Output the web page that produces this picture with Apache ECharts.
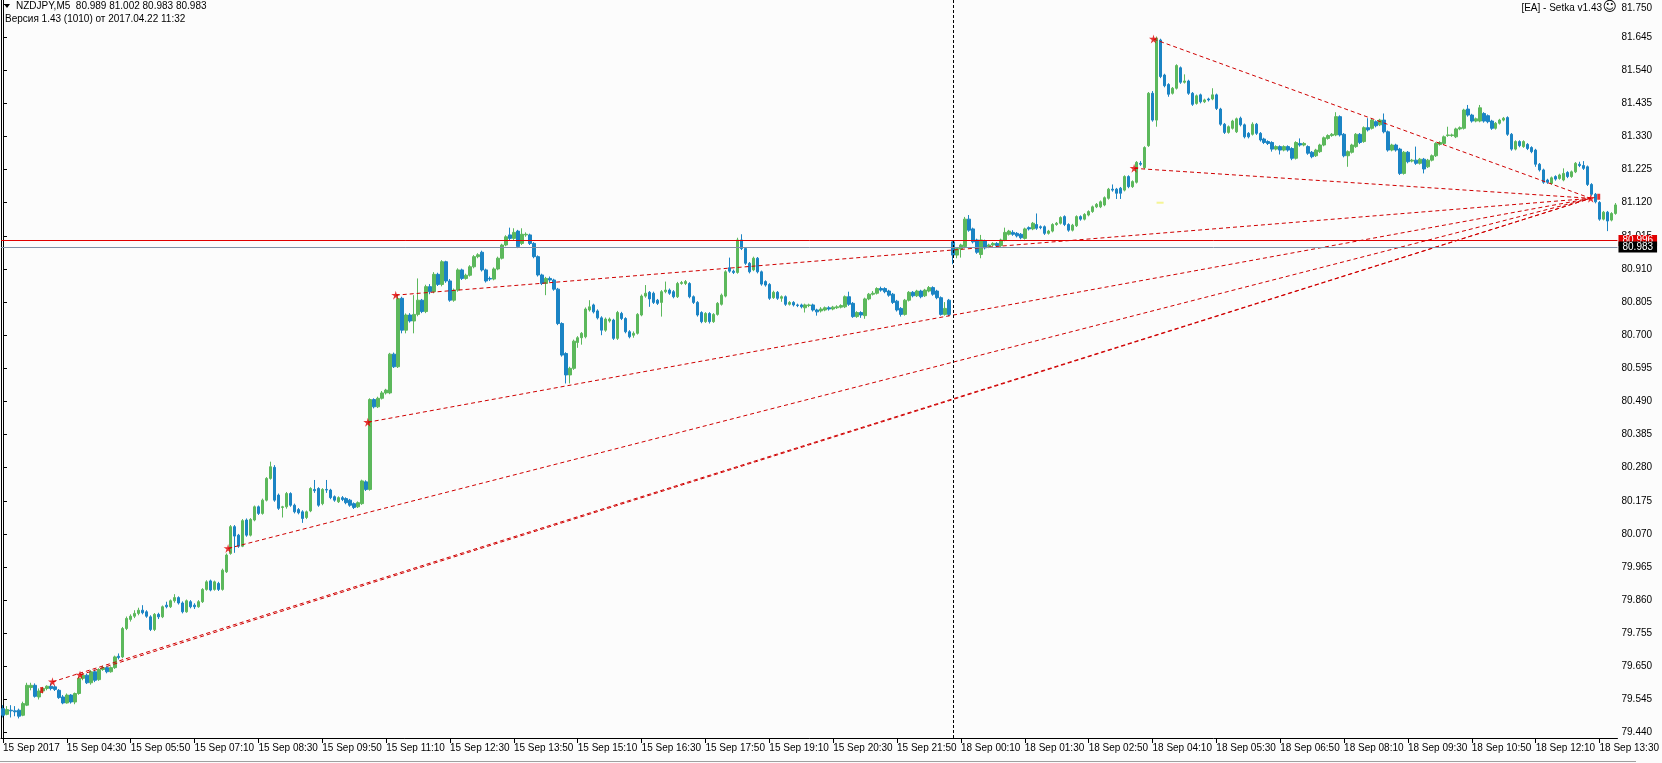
<!DOCTYPE html>
<html>
<head>
<meta charset="utf-8">
<script src="https://cdn.jsdelivr.net/npm/echarts@6/dist/echarts.min.js"></script>
<style>
  html, body { margin: 0; padding: 0; background: #fcfcfc; }
  #chart { width: 1662px; height: 763px; }
</style>
</head>
<body>
<div id="chart"></div>
<script>
// NZDJPY M5, bars as [open, close, low, high]
var friMorning = [
  [79.516,79.495,79.488,79.527],[79.498,79.513,79.495,79.524],[79.511,79.509,79.488,79.527],[79.509,79.506,79.492,79.524],
  [79.511,79.492,79.485,79.516],[79.495,79.532,79.492,79.538],[79.527,79.590,79.524,79.598],[79.583,79.590,79.574,79.598],
  [79.590,79.555,79.551,79.596],[79.553,79.572,79.545,79.580],[79.572,79.580,79.564,79.585],[79.580,79.587,79.574,79.590],
  [79.587,79.580,79.574,79.596],[79.585,79.577,79.572,79.590],[79.574,79.551,79.547,79.578],[79.553,79.534,79.530,79.559],
  [79.534,79.559,79.532,79.564],[79.559,79.537,79.532,79.562],[79.537,79.564,79.530,79.567],[79.564,79.612,79.560,79.617],
  [79.612,79.622,79.606,79.628],[79.622,79.598,79.594,79.627],[79.598,79.633,79.592,79.638],[79.633,79.606,79.600,79.640],
  [79.608,79.640,79.604,79.644],[79.640,79.646,79.636,79.652],[79.646,79.633,79.628,79.650],[79.633,79.646,79.630,79.650],
  [79.646,79.680,79.642,79.684],[79.682,79.678,79.672,79.691],[79.680,79.770,79.676,79.775],[79.770,79.802,79.765,79.808],
  [79.799,79.809,79.792,79.815],[79.809,79.818,79.803,79.828],[79.818,79.828,79.812,79.836],[79.828,79.820,79.815,79.844],
  [79.823,79.809,79.804,79.828],[79.807,79.767,79.762,79.812],[79.767,79.815,79.762,79.819],[79.815,79.807,79.800,79.820],
  [79.807,79.839,79.803,79.843],[79.844,79.839,79.834,79.855],[79.839,79.858,79.835,79.862],[79.858,79.868,79.852,79.879],
  [79.868,79.851,79.846,79.872],[79.851,79.823,79.818,79.856],[79.823,79.858,79.820,79.862],[79.855,79.839,79.834,79.860],
  [79.844,79.839,79.832,79.850],[79.839,79.855,79.836,79.860],[79.855,79.894,79.851,79.898],[79.894,79.918,79.890,79.923],
  [79.921,79.892,79.888,79.925],[79.894,79.918,79.890,79.922],[79.913,79.894,79.889,79.918],[79.894,79.955,79.890,79.960],
  [79.950,80.003,79.946,80.008],[80.008,80.093,80.004,80.098],[80.093,80.063,80.010,80.098],[80.066,80.031,80.026,80.070],
  [80.031,80.112,80.028,80.117],[80.114,80.066,80.061,80.119],[80.066,80.116,80.062,80.120],[80.114,80.156,80.110,80.160],
  [80.156,80.135,80.130,80.160],[80.135,80.177,80.131,80.182],[80.177,80.246,80.173,80.250],[80.246,80.283,80.242,80.299],
  [80.281,80.177,80.172,80.288],[80.193,80.151,80.146,80.198],[80.154,80.156,80.122,80.159],[80.156,80.198,80.150,80.203],
  [80.198,80.161,80.156,80.202],[80.161,80.140,80.135,80.166],[80.147,80.137,80.132,80.152],[80.140,80.119,80.105,80.145],
  [80.122,80.140,80.117,80.144],[80.143,80.214,80.139,80.218],[80.211,80.207,80.200,80.241],[80.214,80.161,80.156,80.218],
  [80.166,80.211,80.161,80.215],[80.211,80.209,80.200,80.241],[80.209,80.185,80.180,80.213],[80.188,80.177,80.172,80.192],
  [80.172,80.185,80.168,80.189],[80.185,80.179,80.174,80.190],[80.182,80.169,80.164,80.186],[80.177,80.161,80.156,80.181],
  [80.166,80.154,80.149,80.170],[80.156,80.169,80.152,80.173],[80.166,80.238,80.162,80.242],[80.235,80.211,80.206,80.240],
  [80.211,80.496,80.207,80.500],[80.496,80.473,80.468,80.500],[80.473,80.500,80.469,80.505],[80.500,80.517,80.496,80.523],
  [80.517,80.526,80.512,80.530],[80.517,80.640,80.513,80.644],[80.640,80.600,80.596,80.645],[80.600,80.816,80.596,80.827]
];
var friAfternoon = [
  [80.817,80.716,80.706,80.822],[80.716,80.764,80.706,80.769],[80.764,80.745,80.740,80.770],[80.745,80.766,80.706,80.827],
  [80.766,80.811,80.760,80.880],[80.811,80.775,80.770,80.815],[80.775,80.854,80.770,80.860],[80.854,80.838,80.830,80.862],
  [80.838,80.893,80.833,80.900],[80.893,80.861,80.856,80.898],[80.861,80.933,80.855,80.938],[80.933,80.872,80.866,80.936],
  [80.872,80.811,80.806,80.878],[80.811,80.843,80.806,80.848],[80.843,80.907,80.838,80.912],[80.907,80.880,80.875,80.911],
  [80.880,80.890,80.876,80.895],[80.890,80.917,80.886,80.922],[80.917,80.949,80.912,80.954],[80.949,80.955,80.944,80.960],
  [80.963,80.907,80.902,80.968],[80.907,80.872,80.867,80.911],[80.880,80.878,80.872,80.886],[80.878,80.910,80.874,80.915],
  [80.910,80.944,80.906,80.949],[80.944,80.986,80.940,80.990],[80.986,81.012,80.982,81.017],[81.018,81.007,81.000,81.041],
  [81.007,81.026,81.002,81.039],[81.030,80.981,80.976,81.034],[80.991,81.020,80.986,81.039],[81.018,81.020,81.012,81.026],
  [81.018,80.991,80.986,81.022],[80.991,80.949,80.944,80.995],[80.949,80.891,80.886,80.953],[80.891,80.864,80.859,80.895],
  [80.864,80.880,80.827,80.885],[80.880,80.875,80.868,80.886],[80.875,80.846,80.841,80.879],[80.846,80.737,80.732,80.850],
  [80.737,80.637,80.632,80.741],[80.642,80.574,80.547,80.646],[80.574,80.595,80.547,80.600],[80.595,80.681,80.590,80.686],
  [80.677,80.692,80.660,80.697],[80.692,80.706,80.670,80.710],[80.695,80.783,80.690,80.788],[80.780,80.790,80.775,80.811],
  [80.796,80.774,80.769,80.800],[80.777,80.755,80.750,80.782],[80.755,80.716,80.700,80.760],[80.716,80.751,80.711,80.756],
  [80.745,80.751,80.740,80.756],[80.748,80.690,80.685,80.752],[80.690,80.772,80.685,80.777],[80.769,80.753,80.748,80.774],
  [80.753,80.711,80.706,80.757],[80.711,80.695,80.690,80.716],[80.700,80.706,80.692,80.712],[80.706,80.766,80.702,80.770],
  [80.764,80.824,80.760,80.829],[80.824,80.833,80.819,80.859],[80.836,80.815,80.790,80.840],[80.833,80.804,80.799,80.838],
  [80.811,80.801,80.796,80.815],[80.804,80.838,80.759,80.843],[80.838,80.843,80.833,80.870],[80.843,80.833,80.828,80.848],
  [80.838,80.822,80.817,80.843],[80.822,80.864,80.818,80.869],[80.864,80.867,80.860,80.872],[80.864,80.870,80.859,80.875],
  [80.864,80.822,80.817,80.868],[80.822,80.804,80.799,80.826],[80.804,80.764,80.759,80.808],[80.772,80.743,80.738,80.776],
  [80.743,80.769,80.739,80.773],[80.769,80.743,80.737,80.773],[80.743,80.766,80.739,80.770],[80.766,80.801,80.762,80.805],
  [80.798,80.827,80.794,80.832],[80.824,80.901,80.820,80.906],[80.914,80.903,80.898,80.946],[80.903,80.899,80.894,80.908],
  [80.899,81.002,80.895,81.009],[81.002,80.975,80.970,81.020],[80.975,80.928,80.923,80.979],[80.928,80.901,80.896,80.932],
  [80.907,80.944,80.903,80.949],[80.944,80.901,80.896,80.948],[80.901,80.862,80.857,80.905],[80.870,80.859,80.854,80.874],
  [80.861,80.817,80.812,80.865],[80.819,80.836,80.815,80.841],[80.836,80.817,80.812,80.840],[80.817,80.822,80.806,80.826],
  [80.822,80.798,80.793,80.826],[80.798,80.804,80.794,80.808],[80.804,80.796,80.791,80.808],[80.796,80.794,80.789,80.800],
  [80.796,80.790,80.785,80.800],[80.787,80.796,80.772,80.800],[80.794,80.796,80.789,80.800],[80.796,80.780,80.775,80.800],
  [80.780,80.774,80.762,80.784],
  [80.777,80.783,80.772,80.789],[80.780,80.787,80.776,80.791],[80.787,80.783,80.778,80.792],[80.783,80.789,80.779,80.793],
  [80.787,80.790,80.783,80.795],[80.789,80.794,80.785,80.798],[80.790,80.822,80.786,80.826],[80.822,80.798,80.793,80.838],
  [80.801,80.759,80.755,80.805],[80.759,80.772,80.755,80.776],[80.772,80.764,80.755,80.776],[80.762,80.815,80.752,80.819],
  [80.815,80.830,80.811,80.834],[80.830,80.833,80.826,80.840],[80.833,80.848,80.829,80.852],[80.848,80.843,80.838,80.854],
  [80.848,80.838,80.833,80.852],[80.840,80.827,80.822,80.844],[80.830,80.804,80.799,80.834],[80.808,80.780,80.775,80.812],
  [80.785,80.766,80.759,80.789],[80.766,80.811,80.762,80.815],[80.811,80.836,80.807,80.840],[80.836,80.825,80.820,80.840],
  [80.825,80.840,80.821,80.844],[80.840,80.822,80.817,80.844],[80.825,80.843,80.821,80.847],[80.840,80.851,80.836,80.856],
  [80.851,80.830,80.825,80.855],[80.840,80.819,80.814,80.844],[80.819,80.766,80.762,80.823],[80.766,80.785,80.762,80.805],
  [80.811,80.766,80.760,80.815]
];
var monMorning = [
  [80.996,80.954,80.925,80.999],[80.954,80.975,80.944,80.979],[80.973,80.986,80.946,80.990],[80.981,81.068,80.977,81.075],
  [81.068,81.033,81.028,81.081],[81.037,80.996,80.991,81.041],[81.002,80.963,80.958,81.006],[80.956,81.002,80.944,81.018],
  [80.999,80.977,80.972,81.003],[80.981,80.986,80.976,80.990],[80.986,80.991,80.982,80.995],[80.991,80.984,80.979,80.995],
  [80.984,81.002,80.980,81.006],[81.002,81.026,80.998,81.041],[81.020,81.030,81.016,81.034],[81.026,81.020,81.015,81.033],
  [81.023,81.015,81.010,81.027],[81.020,81.009,81.004,81.024],[81.007,81.037,81.003,81.041],[81.041,81.037,81.032,81.045],
  [81.037,81.055,81.033,81.059],[81.051,81.039,81.034,81.086],[81.044,81.041,81.036,81.048],[81.044,81.023,81.018,81.048],
  [81.023,81.030,81.019,81.034],[81.030,81.051,81.026,81.055],[81.051,81.055,81.047,81.059],[81.055,81.073,81.051,81.077],
  [81.076,81.051,81.046,81.080],[81.051,81.033,81.028,81.055],[81.033,81.049,81.029,81.053],[81.047,81.076,81.043,81.080],
  [81.076,81.068,81.063,81.080],[81.068,81.083,81.064,81.087],[81.081,81.092,81.077,81.096],[81.092,81.107,81.088,81.111],
  [81.107,81.115,81.103,81.119],[81.107,81.123,81.103,81.127],[81.113,81.136,81.109,81.140],[81.134,81.163,81.130,81.167],
  [81.163,81.160,81.155,81.178],[81.163,81.150,81.132,81.167],[81.166,81.150,81.132,81.170],[81.160,81.203,81.156,81.207],
  [81.203,81.171,81.166,81.207],[81.171,81.187,81.167,81.191],[81.185,81.248,81.181,81.252],[81.245,81.242,81.237,81.252],
  [81.231,81.295,81.227,81.299],[81.301,81.467,81.297,81.471],[81.467,81.382,81.377,81.474],[81.382,81.641,81.361,81.647],
  [81.636,81.520,81.515,81.640],[81.525,81.491,81.486,81.529],[81.495,81.464,81.456,81.499],[81.467,81.483,81.463,81.487],
  [81.483,81.555,81.479,81.559],[81.548,81.502,81.497,81.552],[81.502,81.506,81.498,81.527],[81.506,81.467,81.462,81.510],
  [81.467,81.432,81.427,81.471],[81.435,81.459,81.431,81.463],[81.462,81.440,81.435,81.466],[81.440,81.446,81.436,81.450],
  [81.449,81.446,81.441,81.453],[81.449,81.462,81.445,81.483],[81.462,81.419,81.414,81.466],[81.417,81.369,81.364,81.421],
  [81.369,81.343,81.338,81.373]
];
var monMidday = [
  [81.343,81.361,81.339,81.365],[81.356,81.379,81.352,81.383],[81.345,81.386,81.341,81.390],[81.388,81.367,81.362,81.393],
  [81.367,81.329,81.324,81.371],[81.340,81.329,81.324,81.344],[81.337,81.369,81.333,81.375],[81.369,81.340,81.335,81.373],
  [81.340,81.319,81.314,81.344],[81.322,81.311,81.306,81.326],[81.314,81.308,81.303,81.318],[81.311,81.290,81.282,81.315],
  [81.290,81.298,81.286,81.302],[81.298,81.287,81.273,81.302],[81.287,81.298,81.283,81.302],[81.298,81.287,81.282,81.302],
  [81.292,81.261,81.255,81.296],[81.261,81.311,81.257,81.315],[81.308,81.303,81.298,81.324],[81.303,81.308,81.299,81.312],
  [81.298,81.277,81.272,81.302],[81.280,81.266,81.261,81.284],[81.269,81.287,81.265,81.291],[81.282,81.303,81.278,81.307],
  [81.303,81.326,81.299,81.330],[81.324,81.333,81.320,81.337],[81.333,81.337,81.329,81.341],[81.335,81.393,81.331,81.407],
  [81.393,81.335,81.330,81.397],[81.337,81.269,81.264,81.341],[81.269,81.282,81.234,81.286],[81.280,81.303,81.276,81.307],
  [81.298,81.337,81.294,81.341],[81.337,81.311,81.306,81.341],[81.314,81.358,81.310,81.362],[81.358,81.351,81.346,81.388],
  [81.356,81.382,81.352,81.386],[81.377,81.364,81.359,81.381],[81.367,81.382,81.363,81.386],[81.382,81.345,81.340,81.403],
  [81.345,81.287,81.282,81.349],[81.287,81.303,81.283,81.307],[81.303,81.287,81.282,81.307],[81.290,81.213,81.208,81.294],
  [81.213,81.280,81.209,81.284],[81.280,81.250,81.245,81.284],[81.252,81.255,81.248,81.259],[81.255,81.245,81.240,81.298],
  [81.245,81.258,81.241,81.262],[81.258,81.227,81.213,81.262],[81.234,81.255,81.230,81.259],[81.255,81.269,81.251,81.273],
  [81.269,81.308,81.265,81.312],[81.305,81.311,81.301,81.315],[81.308,81.329,81.304,81.333],[81.333,81.335,81.329,81.361],
  [81.333,81.335,81.329,81.339],[81.329,81.354,81.325,81.358],[81.354,81.358,81.350,81.362],[81.356,81.414,81.352,81.418],
  [81.417,81.398,81.393,81.430],[81.398,81.379,81.374,81.402],[81.379,81.386,81.375,81.390],[81.379,81.421,81.375,81.430],
  [81.403,81.379,81.374,81.407],[81.396,81.377,81.372,81.400],[81.379,81.356,81.351,81.383],[81.356,81.372,81.352,81.376],
  [81.372,81.382,81.368,81.386],[81.382,81.388,81.378,81.392],[81.390,81.337,81.332,81.394],[81.337,81.290,81.285,81.341],
  [81.290,81.314,81.286,81.318],[81.314,81.301,81.296,81.318],[81.298,81.314,81.294,81.318],[81.305,81.292,81.287,81.309],
  [81.295,81.282,81.277,81.299],[81.287,81.242,81.234,81.291],[81.242,81.224,81.219,81.246],[81.224,81.185,81.180,81.228],
  [81.192,81.185,81.180,81.196],[81.181,81.199,81.177,81.203],[81.203,81.195,81.190,81.207],[81.197,81.208,81.193,81.212],
  [81.192,81.213,81.188,81.229],[81.216,81.203,81.198,81.220],[81.203,81.218,81.199,81.222],[81.218,81.245,81.214,81.249],
  [81.242,81.238,81.233,81.250],[81.238,81.229,81.224,81.252],[81.234,81.178,81.173,81.238],[81.178,81.147,81.142,81.182],
  [81.147,81.123,81.118,81.151],[81.121,81.068,81.063,81.125],[81.068,81.090,81.064,81.094],[81.090,81.062,81.030,81.094],
  [81.065,81.086,81.061,81.090],[81.086,81.113,81.082,81.119]
];

// trading sessions shown (M5 bars)
var sessions = [
  { day: '15 Sep', startMin: 3 * 60 + 10, bars: 238 },
  { day: '18 Sep', startMin: 0, bars: 167 }
];
var firstLabel = '15 Sep 2017';
var yTicks = [79.440, 79.545, 79.650, 79.755, 79.860, 79.965, 80.070, 80.175, 80.280, 80.385, 80.490,
  80.595, 80.700, 80.805, 80.910, 81.015, 81.120, 81.225, 81.330, 81.435, 81.540, 81.645, 81.750];

// grid lines of the EA: [bar, price] start points, all joined to one end point
var fanStarts = [[12.4, 79.601], [19.3, 79.623], [56.4, 80.024], [91.4, 80.424], [98.4, 80.827], [283.4, 81.229], [288.25, 81.639]];
var fanEnd = [397.8, 81.134];
var arrowMarks = [[9.7, 79.575], [399.8, 81.139]];
var yellowMark = [[289.9, 81.120]];
var redLevel = 80.996;
var bidLevel = 80.983;
var separatorBar = 238;

var candles = friMorning.concat(friAfternoon, monMorning, monMidday);

function pad(n) { return (n < 10 ? '0' : '') + n; }
var categories = [];
sessions.forEach(function (s) {
  for (var k = 0; k < s.bars; k++) {
    var m = s.startMin + 5 * k;
    categories.push(s.day + ' ' + pad(Math.floor(m / 60)) + ':' + pad(m % 60));
  }
});

var FONT = 'Liberation Sans, Arial, sans-serif';
var chart = echarts.init(document.getElementById('chart'), null, { renderer: 'canvas' });

var fanSeries = fanStarts.map(function (p) {
  return {
    type: 'line', xAxisIndex: 1, yAxisIndex: 0, data: [p, fanEnd],
    symbol: 'none', silent: true, z: 3,
    lineStyle: { color: '#d00000', width: 1, type: [4, 3] }
  };
});

var starPath = 'path://M5,0 L6,3.6 L10,3.6 L6.8,6 L8,10 L5,7.4 L2,10 L3.2,6 L0,3.6 L4,3.6 Z';

chart.setOption({
  animation: false,
  backgroundColor: '#fcfcfc',
  grid: { left: 0, right: 41, top: 0, bottom: 25 },
  xAxis: [{
    type: 'category',
    data: categories,
    boundaryGap: true,
    axisLine: { show: true, lineStyle: { color: '#000', width: 1 } },
    axisTick: { show: true, alignWithLabel: true, interval: 15, length: 5, lineStyle: { color: '#000' } },
    axisLabel: {
      interval: 15, align: 'left', margin: 5, color: '#000', fontSize: 10, fontFamily: FONT,
      formatter: function (v, i) { return i === 0 ? firstLabel : v; }
    },
    splitLine: { show: false }
  }, {
    type: 'value', min: -0.5, max: 404.5, show: false
  }],
  yAxis: {
    type: 'value',
    position: 'right',
    min: 79.4229, max: 81.7628,
    axisLine: { show: true, lineStyle: { color: '#000', width: 1 } },
    axisTick: { show: true, customValues: yTicks, length: 4, lineStyle: { color: '#000' } },
    axisLabel: {
      customValues: yTicks, margin: 4, color: '#000', fontSize: 10, fontFamily: FONT,
      formatter: function (v) { return v > 81.7 ? '{top|' + v.toFixed(3) + '}' : v.toFixed(3); },
      rich: { top: { padding: [8, 0, 0, 0], fontSize: 10, fontFamily: FONT, color: '#000' } }
    },
    splitLine: { show: false }
  },
  series: [{
    type: 'candlestick',
    data: candles,
    barWidth: 3,
    z: 2,
    itemStyle: {
      color: '#5cb85c', color0: '#1b84c4',
      borderColor: '#5cb85c', borderColor0: '#1b84c4', borderColorDoji: '#5cb85c', borderWidth: 1
    },
    markLine: {
      silent: true, symbol: ['none', 'none'], animation: false,
      data: [
        { xAxis: categories[separatorBar], lineStyle: { color: '#000', width: 1, type: [3, 2] }, label: { show: false } },
        { yAxis: redLevel, lineStyle: { color: '#e00000', width: 1, type: 'solid' },
          label: { show: true, position: 'end', distance: 1, formatter: redLevel.toFixed(3), color: '#fff', backgroundColor: '#e00000',
            padding: [1, 4, 0, 4], fontSize: 10, fontFamily: FONT } },
        { yAxis: bidLevel, lineStyle: { color: '#8090a8', width: 1, type: 'solid' },
          label: { show: true, position: 'end', distance: 1, formatter: bidLevel.toFixed(3), color: '#fff', backgroundColor: '#000',
            padding: [1, 4, 0, 4], fontSize: 10, fontFamily: FONT } }
      ]
    }
  }].concat(fanSeries, [{
    type: 'scatter', xAxisIndex: 1, data: fanStarts.concat([fanEnd]),
    symbol: starPath, symbolSize: 9, silent: true, z: 4,
    itemStyle: { color: '#e00000' }
  }, {
    type: 'scatter', xAxisIndex: 1, data: arrowMarks,
    symbol: 'rect', symbolSize: [3, 6], silent: true, z: 4,
    itemStyle: { color: '#e00000' }
  }, {
    type: 'scatter', xAxisIndex: 1, data: yellowMark,
    symbol: 'rect', symbolSize: [7, 2], silent: true, z: 4,
    itemStyle: { color: '#f2f27a' }
  }]),
  graphic: [
    { type: 'line', shape: { x1: 1.5, y1: 0, x2: 1.5, y2: 738 }, style: { stroke: '#000', lineWidth: 1 } },
    { type: 'line', shape: { x1: 0, y1: 761.5, x2: 1636, y2: 761.5 }, style: { stroke: '#a0a0a0', lineWidth: 1 } },
    { type: 'polygon', shape: { points: [[4, 4], [10, 4], [7, 8]] }, style: { fill: '#000' } },
    { type: 'text', left: 16, top: 1, style: { text: 'NZDJPY,M5  80.989 81.002 80.983 80.983', fill: '#000', font: '10px ' + FONT } },
    { type: 'text', left: 5, top: 14, style: { text: 'Версия 1.43 (1010) от 2017.04.22 11:32', fill: '#000', font: '10px ' + FONT } },
    { type: 'text', right: 60, top: 3, style: { text: '[EA] - Setka v1.43', fill: '#000', font: '10px ' + FONT } },
    { type: 'text', right: 45, top: 0, style: { text: '☺', fill: '#000', font: '14px DejaVu Sans' } }
  ]
});
</script>
</body>
</html>
